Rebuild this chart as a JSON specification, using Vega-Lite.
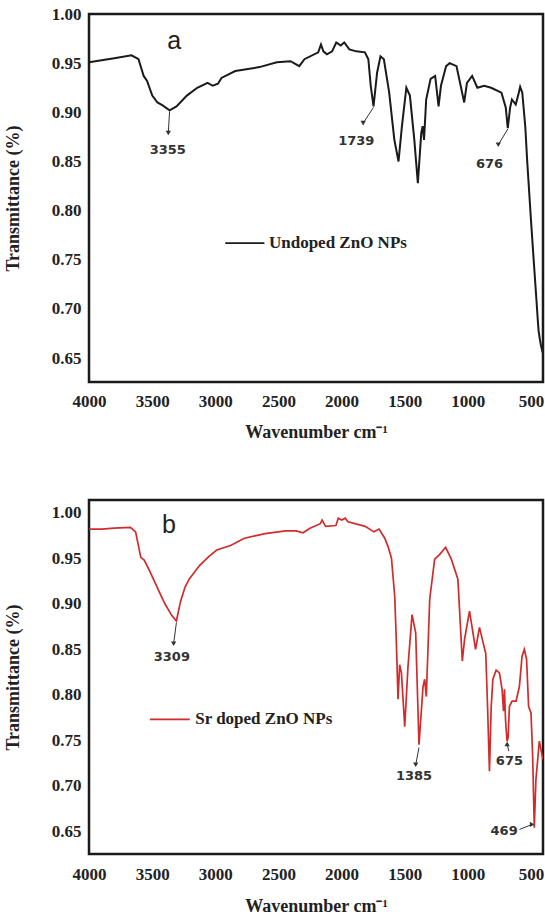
{
  "$schema": "https://vega.github.io/schema/vega-lite/v6.json",
  "background": "white",
  "padding": {"left": 3, "top": 3, "right": 0, "bottom": 0},
  "config": {
    "view": {"stroke": "#1a1a1a", "strokeWidth": 2.5},
    "axis": {
      "grid": false, "domain": false, "ticks": false,
      "labelFont": "Liberation Serif", "labelFontWeight": "bold", "labelFontSize": 17, "labelColor": "#222",
      "titleFont": "Liberation Serif", "titleFontWeight": "bold", "titleFontSize": 18, "titleColor": "#222",
      "labelFlush": false, "labelOverlap": false
    }
  },
  "datasets": {
    "a": [
      {"x": 4000, "y": 0.951}, {"x": 3900, "y": 0.953}, {"x": 3800, "y": 0.955}, {"x": 3663, "y": 0.958},
      {"x": 3608, "y": 0.954}, {"x": 3567, "y": 0.937}, {"x": 3540, "y": 0.932}, {"x": 3499, "y": 0.917},
      {"x": 3458, "y": 0.910}, {"x": 3417, "y": 0.907}, {"x": 3362, "y": 0.902}, {"x": 3307, "y": 0.906},
      {"x": 3225, "y": 0.917}, {"x": 3143, "y": 0.925}, {"x": 3061, "y": 0.930}, {"x": 3020, "y": 0.927},
      {"x": 2979, "y": 0.929}, {"x": 2951, "y": 0.935}, {"x": 2842, "y": 0.942}, {"x": 2650, "y": 0.946},
      {"x": 2513, "y": 0.951}, {"x": 2404, "y": 0.952}, {"x": 2363, "y": 0.949}, {"x": 2335, "y": 0.947},
      {"x": 2294, "y": 0.954}, {"x": 2185, "y": 0.961}, {"x": 2163, "y": 0.969}, {"x": 2144, "y": 0.962},
      {"x": 2116, "y": 0.959}, {"x": 2075, "y": 0.962}, {"x": 2042, "y": 0.971}, {"x": 2007, "y": 0.968},
      {"x": 1979, "y": 0.971}, {"x": 1938, "y": 0.964}, {"x": 1884, "y": 0.962}, {"x": 1815, "y": 0.961},
      {"x": 1788, "y": 0.954}, {"x": 1769, "y": 0.927}, {"x": 1747, "y": 0.906}, {"x": 1719, "y": 0.940},
      {"x": 1692, "y": 0.957}, {"x": 1665, "y": 0.954}, {"x": 1623, "y": 0.920}, {"x": 1582, "y": 0.872},
      {"x": 1549, "y": 0.850}, {"x": 1522, "y": 0.886}, {"x": 1487, "y": 0.925}, {"x": 1459, "y": 0.917},
      {"x": 1424, "y": 0.872}, {"x": 1396, "y": 0.828}, {"x": 1369, "y": 0.879}, {"x": 1358, "y": 0.886},
      {"x": 1347, "y": 0.872}, {"x": 1330, "y": 0.913}, {"x": 1295, "y": 0.934}, {"x": 1259, "y": 0.937},
      {"x": 1232, "y": 0.906}, {"x": 1213, "y": 0.927}, {"x": 1172, "y": 0.947}, {"x": 1144, "y": 0.950},
      {"x": 1090, "y": 0.947}, {"x": 1062, "y": 0.930}, {"x": 1029, "y": 0.910}, {"x": 1007, "y": 0.930},
      {"x": 966, "y": 0.937}, {"x": 925, "y": 0.925}, {"x": 870, "y": 0.927}, {"x": 816, "y": 0.925},
      {"x": 734, "y": 0.920}, {"x": 700, "y": 0.905}, {"x": 684, "y": 0.884}, {"x": 665, "y": 0.905},
      {"x": 651, "y": 0.913}, {"x": 639, "y": 0.911}, {"x": 621, "y": 0.908}, {"x": 600, "y": 0.918},
      {"x": 586, "y": 0.926}, {"x": 569, "y": 0.920}, {"x": 545, "y": 0.885}, {"x": 530, "y": 0.850},
      {"x": 515, "y": 0.820}, {"x": 500, "y": 0.790}, {"x": 480, "y": 0.752}, {"x": 460, "y": 0.715},
      {"x": 447, "y": 0.690}, {"x": 440, "y": 0.678}, {"x": 430, "y": 0.669}, {"x": 420, "y": 0.662},
      {"x": 410, "y": 0.657}, {"x": 405, "y": 0.655}
    ],
    "b": [
      {"x": 4000, "y": 0.982}, {"x": 3900, "y": 0.982}, {"x": 3800, "y": 0.983}, {"x": 3672, "y": 0.984},
      {"x": 3631, "y": 0.979}, {"x": 3590, "y": 0.951}, {"x": 3563, "y": 0.948}, {"x": 3520, "y": 0.936},
      {"x": 3480, "y": 0.924}, {"x": 3440, "y": 0.912}, {"x": 3399, "y": 0.900}, {"x": 3344, "y": 0.887},
      {"x": 3308, "y": 0.881}, {"x": 3276, "y": 0.902}, {"x": 3240, "y": 0.918}, {"x": 3207, "y": 0.927},
      {"x": 3125, "y": 0.942}, {"x": 3050, "y": 0.952}, {"x": 2988, "y": 0.959}, {"x": 2879, "y": 0.964},
      {"x": 2770, "y": 0.972}, {"x": 2606, "y": 0.977}, {"x": 2442, "y": 0.980}, {"x": 2360, "y": 0.980},
      {"x": 2305, "y": 0.978}, {"x": 2250, "y": 0.983}, {"x": 2168, "y": 0.988}, {"x": 2154, "y": 0.992},
      {"x": 2127, "y": 0.985}, {"x": 2045, "y": 0.986}, {"x": 2026, "y": 0.994}, {"x": 1999, "y": 0.992},
      {"x": 1971, "y": 0.994}, {"x": 1950, "y": 0.990}, {"x": 1813, "y": 0.985}, {"x": 1744, "y": 0.979},
      {"x": 1703, "y": 0.982}, {"x": 1658, "y": 0.972}, {"x": 1630, "y": 0.962}, {"x": 1605, "y": 0.950},
      {"x": 1579, "y": 0.908}, {"x": 1566, "y": 0.857}, {"x": 1553, "y": 0.795}, {"x": 1540, "y": 0.833},
      {"x": 1526, "y": 0.824}, {"x": 1500, "y": 0.765}, {"x": 1474, "y": 0.831}, {"x": 1442, "y": 0.888},
      {"x": 1413, "y": 0.868}, {"x": 1387, "y": 0.745}, {"x": 1355, "y": 0.809}, {"x": 1342, "y": 0.817},
      {"x": 1329, "y": 0.798}, {"x": 1302, "y": 0.905}, {"x": 1263, "y": 0.949}, {"x": 1224, "y": 0.954},
      {"x": 1176, "y": 0.962}, {"x": 1131, "y": 0.949}, {"x": 1079, "y": 0.927}, {"x": 1044, "y": 0.837},
      {"x": 1026, "y": 0.861}, {"x": 987, "y": 0.892}, {"x": 939, "y": 0.850}, {"x": 908, "y": 0.874},
      {"x": 858, "y": 0.845}, {"x": 844, "y": 0.787}, {"x": 829, "y": 0.716}, {"x": 815, "y": 0.787},
      {"x": 802, "y": 0.817}, {"x": 776, "y": 0.827}, {"x": 750, "y": 0.824}, {"x": 729, "y": 0.806},
      {"x": 718, "y": 0.782}, {"x": 710, "y": 0.806}, {"x": 702, "y": 0.773}, {"x": 690, "y": 0.749},
      {"x": 681, "y": 0.753}, {"x": 671, "y": 0.787}, {"x": 650, "y": 0.793}, {"x": 618, "y": 0.793},
      {"x": 592, "y": 0.809}, {"x": 571, "y": 0.842}, {"x": 553, "y": 0.850}, {"x": 535, "y": 0.839},
      {"x": 519, "y": 0.787}, {"x": 500, "y": 0.780}, {"x": 487, "y": 0.733}, {"x": 474, "y": 0.654},
      {"x": 461, "y": 0.707}, {"x": 434, "y": 0.749}, {"x": 416, "y": 0.736}, {"x": 405, "y": 0.729}
    ],
    "labels": [
      {"panel": "a", "kind": "letter", "x": 3325, "y": 0.973, "text": "a"},
      {"panel": "a", "kind": "legend", "x": 2575, "y": 0.767, "text": "Undoped ZnO NPs"},
      {"panel": "a", "kind": "peak", "x": 3376, "y": 0.862, "text": "3355"},
      {"panel": "a", "kind": "peak", "x": 1884, "y": 0.871, "text": "1739"},
      {"panel": "a", "kind": "peak", "x": 829, "y": 0.847, "text": "676"},
      {"panel": "b", "kind": "letter", "x": 3366, "y": 0.9865, "text": "b"},
      {"panel": "b", "kind": "legend", "x": 3159, "y": 0.773, "text": "Sr doped ZnO NPs"},
      {"panel": "b", "kind": "peak", "x": 3344, "y": 0.841, "text": "3309"},
      {"panel": "b", "kind": "peak", "x": 1426, "y": 0.711, "text": "1385"},
      {"panel": "b", "kind": "peak", "x": 671, "y": 0.727, "text": "675"},
      {"panel": "b", "kind": "peak", "x": 713, "y": 0.650, "text": "469"}
    ],
    "legendlines": [
      {"panel": "a", "x": 2921, "x2": 2611, "y": 0.767},
      {"panel": "b", "x": 3518, "x2": 3202, "y": 0.773}
    ],
    "arrows": [
      {"panel": "a", "x": 3362, "y": 0.901, "x2": 3372, "y2": 0.879, "head": "down"},
      {"panel": "a", "x": 1747, "y": 0.905, "x2": 1829, "y2": 0.889, "head": "down"},
      {"panel": "a", "x": 684, "y": 0.883, "x2": 759, "y2": 0.867, "head": "down"},
      {"panel": "b", "x": 3308, "y": 0.879, "x2": 3330, "y2": 0.856, "head": "down"},
      {"panel": "b", "x": 1387, "y": 0.742, "x2": 1413, "y2": 0.723, "head": "down"},
      {"panel": "b", "x": 676, "y": 0.738, "x2": 689, "y2": 0.746, "head": "up"},
      {"panel": "b", "x": 591, "y": 0.652, "x2": 491, "y2": 0.6575, "head": "right"}
    ],
    "xticks": [{"v": 4000}, {"v": 3500}, {"v": 3000}, {"v": 2500}, {"v": 2000}, {"v": 1500}, {"v": 1000}, {"v": 500}],
    "yticks": [{"v": 0.65}, {"v": 0.70}, {"v": 0.75}, {"v": 0.80}, {"v": 0.85}, {"v": 0.90}, {"v": 0.95}, {"v": 1.00}]
  },
  "bounds": "flush",
  "spacing": 118,
  "vconcat": [
    {
      "width": 454, "height": 368,
      "encoding": {
        "x": {"field": "x", "type": "quantitative", "title": "Wavenumber cm⁻¹",
              "scale": {"domain": [405, 4000], "reverse": true, "nice": false, "zero": false},
              "axis": {"values": [4000, 3500, 3000, 2500, 2000, 1500, 1000, 500], "format": "d",
                       "labelFont": "Liberation Serif", "labelFontWeight": "bold", "labelFontSize": 17,
                       "labelPadding": 11, "titlePadding": 14}},
        "y": {"field": "y", "type": "quantitative", "title": "Transmittance (%)",
              "scale": {"domain": [0.6257, 1.0], "nice": false, "zero": false},
              "axis": {"values": [0.65, 0.7, 0.75, 0.8, 0.85, 0.9, 0.95, 1.0], "format": ".2f",
                       "labelFont": "Liberation Serif", "labelFontWeight": "bold", "labelFontSize": 17,
                       "labelPadding": 8, "titlePadding": 29}}
      },
      "layer": [
        {"data": {"name": "xticks"}, "mark": {"type": "rule", "color": "#111111", "strokeWidth": 3},
         "encoding": {"x": {"field": "v", "type": "quantitative"}, "y": {"datum": 0.6257}, "y2": {"datum": 0.6345}}},
        {"data": {"name": "yticks"}, "mark": {"type": "rule", "color": "#111111", "strokeWidth": 3},
         "encoding": {"y": {"field": "v", "type": "quantitative"}, "x": {"datum": 4000}, "x2": {"datum": 3930}}},
        {"data": {"name": "a"}, "mark": {"type": "line", "color": "#1a1a1a", "strokeWidth": 2, "clip": true}},
        {"data": {"name": "legendlines"}, "transform": [{"filter": "datum.panel == 'a'"}],
         "mark": {"type": "rule", "color": "#1a1a1a", "strokeWidth": 1.8},
         "encoding": {"x2": {"field": "x2"}}},
        {"data": {"name": "labels"}, "transform": [{"filter": "datum.panel == 'a' && datum.kind == 'legend'"}],
         "mark": {"type": "text", "align": "left", "baseline": "middle", "font": "Liberation Serif", "fontWeight": "bold", "fontSize": 17, "color": "#222"},
         "encoding": {"text": {"field": "text"}}},
        {"data": {"name": "labels"}, "transform": [{"filter": "datum.panel == 'a' && datum.kind == 'letter'"}],
         "mark": {"type": "text", "align": "center", "baseline": "middle", "font": "Liberation Sans", "fontSize": 25, "color": "#222"},
         "encoding": {"text": {"field": "text"}}},
        {"data": {"name": "labels"}, "transform": [{"filter": "datum.panel == 'a' && datum.kind == 'peak'"}],
         "mark": {"type": "text", "align": "center", "baseline": "middle", "font": "DejaVu Sans", "fontWeight": "bold", "fontSize": 13, "color": "#333"},
         "encoding": {"text": {"field": "text"}}},
        {"data": {"name": "arrows"}, "transform": [{"filter": "datum.panel == 'a'"}],
         "mark": {"type": "rule", "color": "#333", "strokeWidth": 1},
         "encoding": {"x2": {"field": "x2"}, "y2": {"field": "y2"}}},
        {"data": {"name": "arrows"}, "transform": [{"filter": "datum.panel == 'a'"}],
         "mark": {"type": "point", "filled": true, "color": "#333", "size": 28, "opacity": 1},
         "encoding": {"x": {"field": "x2", "type": "quantitative"}, "y": {"field": "y2", "type": "quantitative"},
                      "shape": {"field": "head", "type": "nominal", "legend": null,
                                "scale": {"domain": ["down", "up", "right"], "range": ["triangle-down", "triangle-up", "triangle-right"]}}}}
      ]
    },
    {
      "width": 454, "height": 354,
      "encoding": {
        "x": {"field": "x", "type": "quantitative", "title": "Wavenumber cm⁻¹",
              "scale": {"domain": [405, 4000], "reverse": true, "nice": false, "zero": false},
              "axis": {"values": [4000, 3500, 3000, 2500, 2000, 1500, 1000, 500], "format": "d",
                       "labelFont": "Liberation Serif", "labelFontWeight": "bold", "labelFontSize": 17,
                       "labelPadding": 12, "titlePadding": 15}},
        "y": {"field": "y", "type": "quantitative", "title": "Transmittance (%)",
              "scale": {"domain": [0.625, 1.014], "nice": false, "zero": false},
              "axis": {"values": [0.65, 0.7, 0.75, 0.8, 0.85, 0.9, 0.95, 1.0], "format": ".2f",
                       "labelFont": "Liberation Serif", "labelFontWeight": "bold", "labelFontSize": 17,
                       "labelPadding": 8, "titlePadding": 29}}
      },
      "layer": [
        {"data": {"name": "xticks"}, "mark": {"type": "rule", "color": "#111111", "strokeWidth": 3},
         "encoding": {"x": {"field": "v", "type": "quantitative"}, "y": {"datum": 0.625}, "y2": {"datum": 0.6345}}},
        {"data": {"name": "yticks"}, "mark": {"type": "rule", "color": "#111111", "strokeWidth": 3},
         "encoding": {"y": {"field": "v", "type": "quantitative"}, "x": {"datum": 4000}, "x2": {"datum": 3930}}},
        {"data": {"name": "b"}, "mark": {"type": "line", "color": "#d22b2b", "strokeWidth": 1.7, "clip": true}},
        {"data": {"name": "legendlines"}, "transform": [{"filter": "datum.panel == 'b'"}],
         "mark": {"type": "rule", "color": "#d22b2b", "strokeWidth": 1.8},
         "encoding": {"x2": {"field": "x2"}}},
        {"data": {"name": "labels"}, "transform": [{"filter": "datum.panel == 'b' && datum.kind == 'legend'"}],
         "mark": {"type": "text", "align": "left", "baseline": "middle", "font": "Liberation Serif", "fontWeight": "bold", "fontSize": 17, "color": "#222"},
         "encoding": {"text": {"field": "text"}}},
        {"data": {"name": "labels"}, "transform": [{"filter": "datum.panel == 'b' && datum.kind == 'letter'"}],
         "mark": {"type": "text", "align": "center", "baseline": "middle", "font": "Liberation Sans", "fontSize": 25, "color": "#222"},
         "encoding": {"text": {"field": "text"}}},
        {"data": {"name": "labels"}, "transform": [{"filter": "datum.panel == 'b' && datum.kind == 'peak'"}],
         "mark": {"type": "text", "align": "center", "baseline": "middle", "font": "DejaVu Sans", "fontWeight": "bold", "fontSize": 13, "color": "#333"},
         "encoding": {"text": {"field": "text"}}},
        {"data": {"name": "arrows"}, "transform": [{"filter": "datum.panel == 'b'"}],
         "mark": {"type": "rule", "color": "#333", "strokeWidth": 1},
         "encoding": {"x2": {"field": "x2"}, "y2": {"field": "y2"}}},
        {"data": {"name": "arrows"}, "transform": [{"filter": "datum.panel == 'b'"}],
         "mark": {"type": "point", "filled": true, "color": "#333", "size": 28, "opacity": 1},
         "encoding": {"x": {"field": "x2", "type": "quantitative"}, "y": {"field": "y2", "type": "quantitative"},
                      "shape": {"field": "head", "type": "nominal", "legend": null,
                                "scale": {"domain": ["down", "up", "right"], "range": ["triangle-down", "triangle-up", "triangle-right"]}}}}
      ]
    }
  ]
}
